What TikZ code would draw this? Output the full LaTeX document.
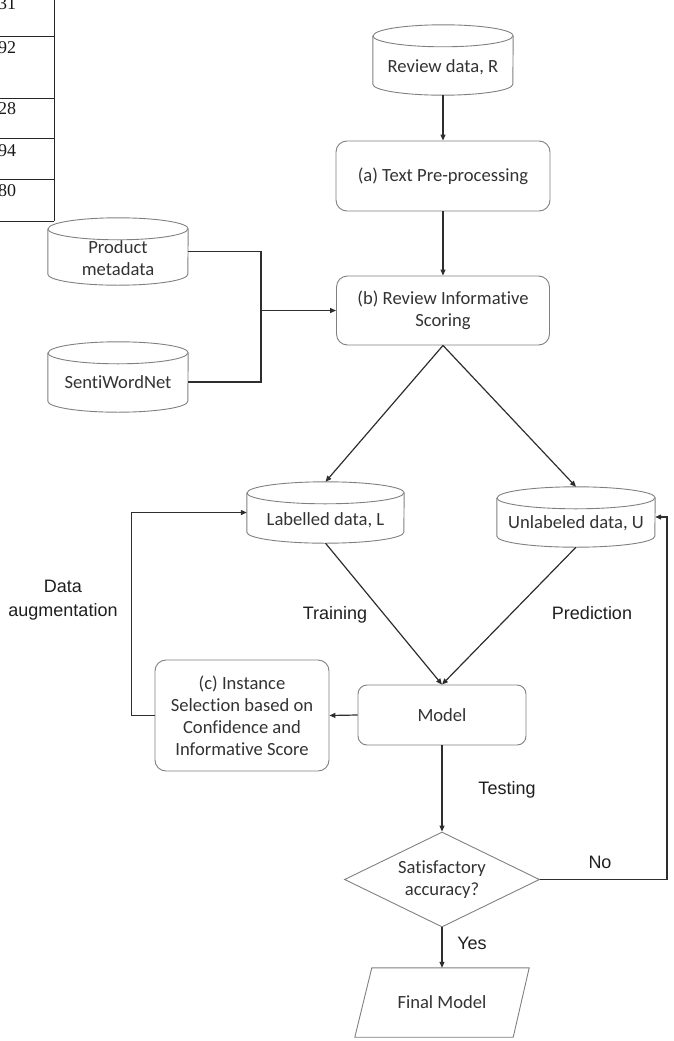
\documentclass[tikz,border=0pt]{standalone}
\usepackage{fontspec}
\setmainfont{Carlito}[Ligatures={NoCommon}]
\newfontfamily\arialf{Liberation Sans}
\newfontfamily\timesf{Liberation Serif}
\usetikzlibrary{arrows.meta,shapes.geometric}
\definecolor{shapegray}{HTML}{808080}
\definecolor{linedark}{HTML}{2E2E2E}
\definecolor{txt}{HTML}{333333}
\newcommand\mycyl[2]{%
  \draw[cylline] ([yshift=-11pt]#1.north west) -- ([yshift=11pt]#1.south west)
    arc[start angle=180,end angle=360,x radius=#2pt,y radius=11pt]
    -- ([yshift=-11pt]#1.north east)
    arc[start angle=0,end angle=180,x radius=#2pt,y radius=11pt];
  \draw[cylline] ([yshift=-11pt]#1.north west)
    arc[start angle=180,end angle=360,x radius=#2pt,y radius=11pt];
}
\begin{document}
\begin{tikzpicture}[x=1pt,y=-1pt,
  box/.style={draw=shapegray, line width=0.9pt, rounded corners=11pt, align=center,
    text=txt, font=\fontsize{18.6}{22}\selectfont, inner sep=0pt},
  cylbox/.style={inner sep=0pt},
  cyltext/.style={text=txt, font=\fontsize{18.6}{22}\selectfont, align=center, inner sep=0pt},
  cylline/.style={draw=shapegray, line width=0.9pt},
  conn/.style={draw=linedark, line width=1.2pt},
  arr/.style={conn, -{Triangle[length=6pt,width=5pt]}},
  lab/.style={font=\arialf\fontsize{18}{24}\selectfont, text=black!88, align=center, inner sep=0pt},
  tabline/.style={draw=black!85, line width=0.9pt},
  num/.style={font=\timesf\fontsize{18}{20}\selectfont, anchor=west, inner sep=0pt, text=black!90}
]
\useasboundingbox (0,0) rectangle (673,1041);
\clip (0,0) rectangle (673,1041);

% table fragment
\draw[tabline] (54,-2) -- (54,221);
\draw[tabline] (-2,36) -- (54,36);
\draw[tabline] (-2,98) -- (54,98);
\draw[tabline] (-2,138) -- (54,138);
\draw[tabline] (-2,179) -- (54,179);
\draw[tabline] (-2,221) -- (54,221);
\node[num] (n31) at (-2,4) {31};
\node[num] (n92) at (-2,48) {92};
\node[num] (n28) at (-2,109) {28};
\node[num] (n94) at (-2,151) {94};
\node[num] (n80) at (-2,191) {80};

% cylinders
\node[cylbox, minimum width=140pt, minimum height=70pt] (R) at (443,60) {};
\node[cyltext] (Rt) at (443,67) {Review data, R};
\node[cylbox, minimum width=140pt, minimum height=67pt] (P) at (118,251.5) {};
\node[cyltext] (Pt) at (118,258) {Product\\metadata};
\node[cylbox, minimum width=140pt, minimum height=70pt] (S) at (118,377) {};
\node[cyltext] (St) at (118,382) {SentiWordNet};
\node[cylbox, minimum width=157pt, minimum height=61pt] (L) at (325.5,512.5) {};
\node[cyltext] (Lt) at (325.5,520) {Labelled data, L};
\node[cylbox, minimum width=158pt, minimum height=60pt] (U) at (576,517) {};
\node[cyltext] (Ut) at (576,523) {Unlabeled data, U};
\mycyl{R}{70}
\mycyl{P}{70}
\mycyl{S}{70}
\mycyl{L}{78.5}
\mycyl{U}{79}

% boxes
\node[box, minimum width=214pt, minimum height=70pt] (a) at (443,176) {(a) Text Pre-processing};
\node[box, minimum width=213pt, minimum height=69pt] (b) at (443,310.5) {(b) Review Informative\\Scoring};
\node[box, minimum width=174pt, minimum height=111pt] (c) at (242,715.5) {(c) Instance\\Selection based on\\Confidence and\\Informative Score};
\node[box, minimum width=168pt, minimum height=60pt, rounded corners=9pt] (M) at (442,715) {Model};
\node[diamond, aspect=2.05, draw=shapegray, line width=0.9pt, minimum width=195pt, minimum height=95pt,
  inner sep=0pt, align=center, text=txt, font=\fontsize{18.6}{22}\selectfont] (D) at (442,879.5) {Satisfactory\\accuracy?};
\node[minimum width=174pt, minimum height=69pt, inner sep=0pt, text=txt,
  font=\fontsize{18.6}{22}\selectfont] (F) at (442,1002.5) {Final Model};
\draw[cylline] ([xshift=17pt]F.north west) -- (F.north east) -- ([xshift=-16pt]F.south east)
  -- (F.south west) -- cycle;

% connectors
\draw[arr] (R.south) -- (a.north);
\draw[arr] (a.south) -- (b.north);
\path (b.west) ++(-75,0) coordinate (J);
\draw[conn] (P.east) -| (J);
\draw[conn] (St.east -| S.east) -| (J);
\draw[arr] (J) -- (b.west);
\draw[arr] (b.south) -- (L.north);
\draw[arr] (b.south) -- (U.north);
\draw[arr] (L.south) -- (M.north);
\draw[arr] (U.south) -- (M.north);
\draw[arr] (M.west) -- (c.east);
\draw[arr] (c.west) -- ++(-23,0) |- (L.west);
\draw[arr] (M.south) -- (D.north);
\draw[arr] (D.east) -- ++(127,0) |- (U.east);
\draw[arr] (D.south) -- (F.north);

% labels
\node[lab] (trn) at (335,615) {Training};
\node[lab] (prd) at (592,613) {Prediction};
\node[lab] (tst) at (507,790) {Testing};
\node[lab] (no) at (600,862) {No};
\node[lab] (yes) at (472,943) {Yes};
\node[lab] (aug) at (63,600) {Data\\augmentation};
\end{tikzpicture}
\end{document}
